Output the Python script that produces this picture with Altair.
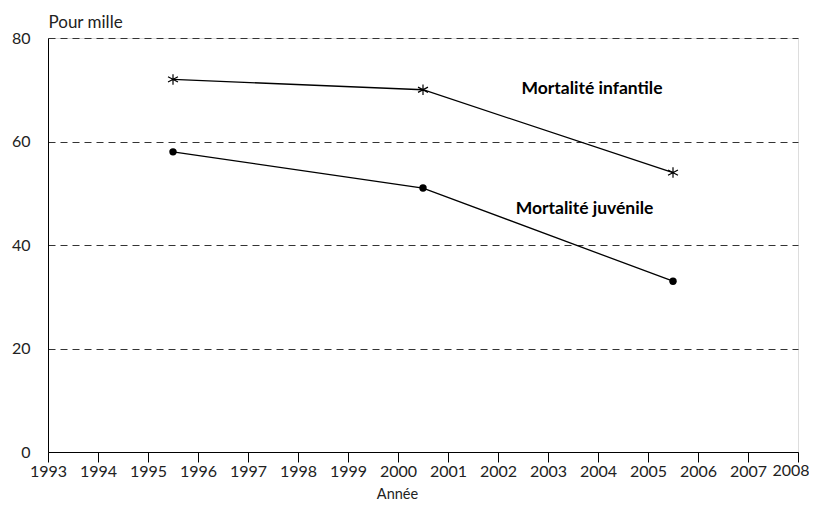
import altair as alt
import pandas as pd

years = [1995.5, 2000.5, 2005.5]
infantile = [72, 70, 54]
juvenile = [58, 51, 33]
tick_years = list(range(1993, 2009))
y_ticks = [0, 20, 40, 60, 80]
last_year = [2008]

df = pd.DataFrame({
    "annee": years * 2,
    "valeur": infantile + juvenile,
    "serie": ["Mortalité infantile"] * 3 + ["Mortalité juvénile"] * 3,
})
inf = df[df.serie == "Mortalité infantile"]
juv = df[df.serie == "Mortalité juvénile"]

labels = pd.DataFrame({
    "annee": [2003.88, 2003.73],
    "valeur": [70.2, 47.0],
    "txt": ["Mortalité infantile", "Mortalité juvénile"],
})

FONT = "Lato"
xscale = alt.Scale(domain=[1993, 2008], nice=False, zero=False)

x = alt.X("annee:Q", scale=xscale,
          axis=alt.Axis(values=tick_years, format="d", title="Année",
                        grid=False, tickSize=10, tickColor="black",
                        domainColor="black", labelFontSize=16, labelFont=FONT,
                        labelColor="#222", labelPadding=1, labelFlush=False,
                        labelExpr="datum.value == 2008 ? '' : datum.label",
                        titleFont=FONT, titleFontSize=14.5, titleFontWeight="normal",
                        titleX=349, titleY=42, titleAnchor="start", titleAlign="center",
                        titleBaseline="middle", titleColor="#222"))
y = alt.Y("valeur:Q",
          scale=alt.Scale(domain=[0, 80], nice=False),
          axis=alt.Axis(values=y_ticks, title="Pour mille", grid=True,
                        gridDash=[7, 5], gridColor="#333", gridWidth=1,
                        ticks=False, domainColor="black", labelFontSize=16,
                        labelFont=FONT, labelColor="#222", labelPadding=18,
                        titleFont=FONT, titleFontSize=17, titleFontWeight="normal",
                        titleAngle=0, titleX=0, titleY=-11, titleAlign="left",
                        titleBaseline="alphabetic", titleColor="#222"))

line_inf = alt.Chart(inf).mark_line(color="black", strokeWidth=1.3).encode(x=x, y=y)
line_juv = alt.Chart(juv).mark_line(color="black", strokeWidth=1.3).encode(x=x, y=y)

star_path = "M0,-1L0,1M-0.95,-0.5L0.95,0.5M-0.95,0.5L0.95,-0.5"
stars = alt.Chart(inf).mark_point(shape=star_path, filled=False, color="black",
                                  size=110, strokeWidth=1.2, opacity=1).encode(x=x, y=y)
dots = alt.Chart(juv).mark_circle(color="black", size=55, opacity=1).encode(x=x, y=y)

txt = alt.Chart(labels).mark_text(font=FONT, fontSize=17.5, fontWeight="bold",
                                  color="black", align="center", baseline="middle").encode(
    x=x, y=y, text="txt:N")

last_lab = alt.Chart(pd.DataFrame({"annee": last_year, "lab": [str(v) for v in last_year]})).mark_text(
    font=FONT, fontSize=16, color="#222", align="center", baseline="top", dx=-7, clip=False
).encode(x=x, y=alt.value(425), text="lab:N")

chart = alt.layer(line_inf, line_juv, stars, dots, txt, last_lab).properties(
    width=750, height=414,
    autosize=alt.AutoSizeParams(type="none"),
    padding={"left": 40, "top": 30, "right": 11, "bottom": 60},
).configure_view(stroke="#333", strokeWidth=1).configure(background="white")

chart.save("out.html", embed_options={"renderer": "svg", "actions": False})
